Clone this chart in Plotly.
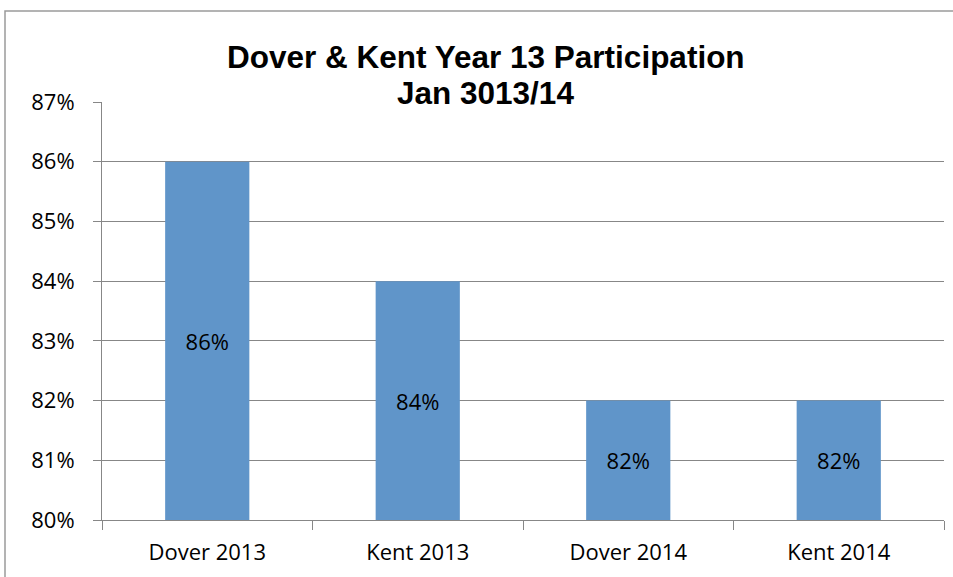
import plotly.graph_objects as go

# Year 13 participation rates
categories = ["Dover 2013", "Kent 2013", "Dover 2014", "Kent 2014"]
participation = [0.86, 0.84, 0.82, 0.82]
axis_floor = 0.80

title_line1 = "Dover & Kent Year 13 Participation"
title_line2 = "Jan 3013/14"

W, H = 953, 577
L, R, T, B = 102, 9, 102, 57
plot_w = W - L - R
plot_h = H - T - B

def px_x(px):
    return (px - L) / plot_w

def px_y(py):
    return 1 + (T - py) / plot_h

GRID = "#878787"
BAR = "#6095C9"
FONT = "Open Sans"

# Bars rise from the axis floor so the labels sit in the visible part of each bar
fig = go.Figure(
    go.Bar(
        x=categories,
        y=[v - axis_floor for v in participation],
        base=axis_floor,
        width=0.4,
        marker=dict(color=BAR, line=dict(width=0)),
        text=[f"{v:.0%}" for v in participation],
        textposition="inside",
        insidetextanchor="middle",
        textangle=0,
        textfont=dict(family=FONT, size=22, color="black"),
        hoverinfo="skip",
    )
)

fig.update_layout(
    width=W,
    height=H,
    margin=dict(l=L, r=R, t=T, b=B),
    paper_bgcolor="white",
    plot_bgcolor="white",
    showlegend=False,
    font=dict(family=FONT, size=22, color="black"),
)

fig.update_yaxes(
    range=[axis_floor, 0.87],
    dtick=0.01,
    tickformat=".0%",
    showgrid=True,
    gridcolor=GRID,
    gridwidth=1,
    showline=True,
    linecolor=GRID,
    linewidth=1,
    ticks="outside",
    ticklen=8,
    tickcolor=GRID,
    ticklabelstandoff=14,
    tickfont=dict(family=FONT, size=22, color="black"),
    zeroline=False,
)

fig.update_xaxes(
    showgrid=False,
    showline=True,
    linecolor=GRID,
    linewidth=1,
    ticks="outside",
    tickson="boundaries",
    ticklen=9,
    tickcolor=GRID,
    ticklabelstandoff=13,
    tickfont=dict(family=FONT, size=22, color="black"),
)

# Outer chart frame
fig.add_shape(
    type="rect",
    xref="paper", yref="paper",
    x0=px_x(5), x1=px_x(W + 20),
    y0=px_y(H + 20), y1=px_y(11),
    line=dict(color="#9A9A9A", width=1.5),
    fillcolor="rgba(0,0,0,0)",
    layer="below",
)

# Two-line title
for text, py in [(title_line1, 57), (title_line2, 93)]:
    fig.add_annotation(
        text=f"<b>{text}</b>",
        xref="paper", yref="paper",
        x=px_x(485.5), y=px_y(py),
        xanchor="center", yanchor="middle",
        showarrow=False,
        font=dict(family="Liberation Sans", size=31.5, color="black"),
    )

fig.write_html("out.html")
